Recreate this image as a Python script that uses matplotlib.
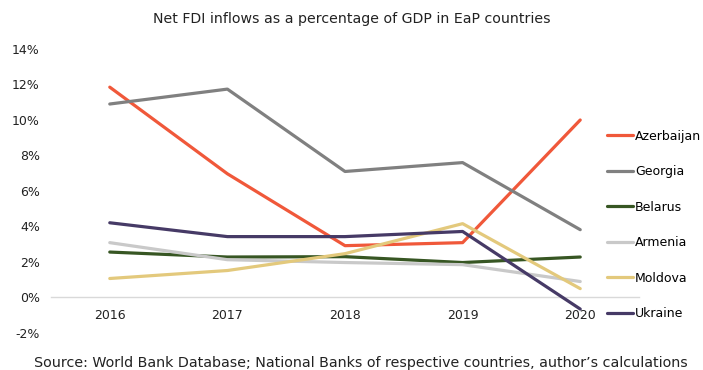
import matplotlib
matplotlib.use('Agg')
import matplotlib.pyplot as plt
import numpy as np

# data (percent of GDP)
years = ['2016', '2017', '2018', '2019', '2020']
azerbaijan = [11.85, 6.97, 2.92, 3.09, 10.0]
georgia = [10.9, 11.74, 7.1, 7.6, 3.82]
belarus = [2.56, 2.28, 2.3, 1.97, 2.28]
armenia = [3.09, 2.13, 1.97, 1.85, 0.9]
moldova = [1.07, 1.52, 2.47, 4.16, 0.5]
ukraine = [4.21, 3.43, 3.43, 3.72, -0.65]

series_names = ['Azerbaijan', 'Georgia', 'Belarus', 'Armenia', 'Moldova', 'Ukraine']
series_values = [azerbaijan, georgia, belarus, armenia, moldova, ukraine]
colors = ['#F0583A', '#808080', '#375623', '#C9C9C9', '#E3C97C', '#463A66']

title = 'Net FDI inflows as a percentage of GDP in EaP countries'
source = 'Source: World Bank Database; National Banks of respective countries, author\u2019s calculations'

fig = plt.figure(figsize=(7.03, 3.70), dpi=100)
ax = fig.add_axes([0.0725, 0.10, 0.8365, 0.7676])

x = np.arange(len(years))
for name, vals, col in zip(series_names, series_values, colors):
    ax.plot(x, vals, color=col, lw=2.3, label=name, solid_capstyle='round')

ax.set_xlim(-0.5, len(years) - 0.5)
ax.set_ylim(-2, 14)
ax.set_yticks(np.arange(-2, 15, 2))
ax.set_yticklabels([f'{v}%' for v in range(-2, 15, 2)])
ax.set_xticks(x)
ax.set_xticklabels(years)

for s in ['top', 'right', 'left']:
    ax.spines[s].set_visible(False)
ax.spines['bottom'].set_position(('data', 0))
ax.spines['bottom'].set_color('#D9D9D9')
ax.spines['bottom'].set_linewidth(1)
ax.spines['bottom'].set_zorder(0)
ax.tick_params(axis='both', length=0, labelsize=9, colors='#222222')
ax.tick_params(axis='x', pad=8)
ax.tick_params(axis='y', pad=8)

fig.legend(loc='center left', bbox_to_anchor=(0.8634, 0.392), frameon=False,
           fontsize=9, handlelength=2.05, handletextpad=0.2, labelspacing=1.8,
           borderpad=0, borderaxespad=0)

fig.text(0.50, 0.949, title, ha='center', va='center', fontsize=10.2, color='#222222')
fig.text(0.514, 0.019, source, ha='center', va='center', fontsize=10.3, color='#222222')

fig.savefig('out.png', dpi=100)
